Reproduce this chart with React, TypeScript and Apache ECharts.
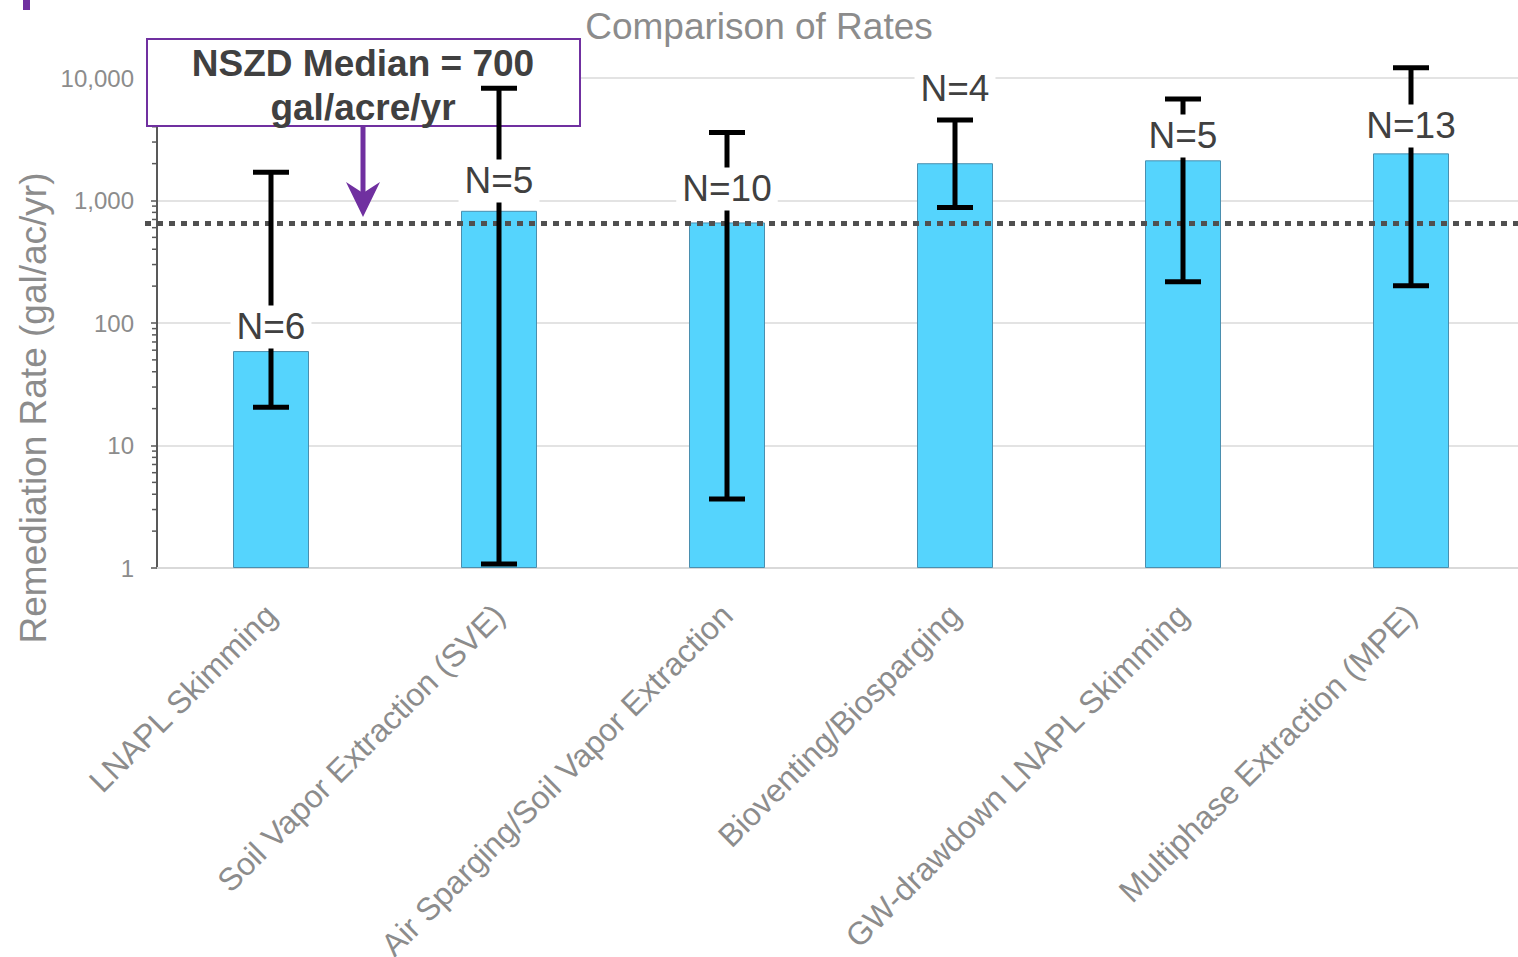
import React, { useEffect, useRef } from "react";
import * as echarts from "echarts";

const categories = [
  "LNAPL Skimming",
  "Soil Vapor Extraction (SVE)",
  "Air Sparging/Soil Vapor Extraction",
  "Bioventing/Biosparging",
  "GW-drawdown LNAPL Skimming",
  "Multiphase Extraction (MPE)",
];
const medianRates = [59, 824, 662, 2015, 2128, 2425];
const rangeLow = [20.5, 1.08, 3.66, 877, 217, 201];
const rangeHigh = [1702, 8240, 3583, 4545, 6749, 12130];
const sampleCounts = [6, 5, 10, 4, 5, 13];
const countLabelAt = [92.8, 1443, 1242, 8286, 3362, 4058];
const nszdMedianLine = 650;
const minorTickValues = [
  2, 3, 4, 5, 6, 7, 8, 9,
  20, 30, 40, 50, 60, 70, 80, 90,
  200, 300, 400, 500, 600, 700, 800, 900,
  2000, 3000, 4000, 5000, 6000, 7000, 8000, 9000,
];
const titleText = "Comparison of Rates";
const yAxisTitle = "Remediation Rate (gal/ac/yr)";
const annotationText = "NSZD Median = 700\ngal/acre/yr";

const FONT = "'Liberation Sans', Arial, sans-serif";
const PURPLE = "#7030A0";
const GRAY = "#8c8c8c";

export default function App() {
  const ref = useRef<HTMLDivElement>(null);
  useEffect(() => {
    if (!ref.current) return;
    const chart = echarts.init(ref.current, undefined, { renderer: "svg" });
    const option: any = {
      animation: false,
      textStyle: { fontFamily: FONT },
      title: {
        text: titleText,
        left: "center",
        top: 3,
        textStyle: { fontSize: 37, fontWeight: "normal", color: GRAY, fontFamily: FONT },
      },
      grid: {
        left: 157,
        right: -7,
        top: 78,
        bottom: 389,
        containLabel: false,
        outerBoundsMode: "none",
      },
      xAxis: {
        type: "category",
        data: categories,
        axisLine: { show: true, lineStyle: { color: "#d9d9d9", width: 2 } },
        axisTick: { show: false },
        axisLabel: {
          interval: 0,
          rotate: 45,
          fontSize: 32,
          color: GRAY,
          margin: 42,
          fontFamily: FONT,
        },
      },
      yAxis: {
        type: "log",
        logBase: 10,
        min: 1,
        max: 10000,
        axisLine: { show: true, lineStyle: { color: "#595959", width: 2 } },
        axisTick: { show: true, inside: false, length: 6, lineStyle: { color: "#595959", width: 1.5 } },
        splitLine: { show: true, lineStyle: { color: "#e3e3e3", width: 2 } },
        axisLabel: {
          fontSize: 24,
          color: GRAY,
          margin: 23,
          fontFamily: FONT,
          formatter: (v: number) => Math.round(v).toLocaleString("en-US"),
        },
      },
      series: [
        {
          type: "bar",
          data: medianRates,
          barWidth: 76,
          z: 2,
          itemStyle: { color: "#55D4FD", borderColor: "#4A8FAF", borderWidth: 1 },
        },
        {
          type: "custom",
          z: 1,
          silent: true,
          data: minorTickValues.map((v) => [0, v]),
          renderItem: (params: any, api: any) => {
            const y = api.coord([0, api.value(1)])[1];
            const x = params.coordSys.x;
            return {
              type: "line",
              shape: { x1: x - 5, y1: y, x2: x, y2: y },
              style: { stroke: "#595959", lineWidth: 1.5 },
            };
          },
        },
        {
          type: "custom",
          z: 4,
          silent: true,
          data: categories.map((_, i) => [i, rangeLow[i], rangeHigh[i]]),
          renderItem: (params: any, api: any) => {
            const i = api.value(0);
            const lo = api.coord([i, api.value(1)]);
            const hi = api.coord([i, api.value(2)]);
            const half = 18;
            const st = { stroke: "#000", lineWidth: 5 };
            return {
              type: "group",
              children: [
                { type: "line", shape: { x1: lo[0], y1: hi[1], x2: lo[0], y2: lo[1] }, style: st },
                { type: "line", shape: { x1: hi[0] - half, y1: hi[1], x2: hi[0] + half, y2: hi[1] }, style: st },
                { type: "line", shape: { x1: lo[0] - half, y1: lo[1], x2: lo[0] + half, y2: lo[1] }, style: st },
              ],
            };
          },
        },
        {
          type: "custom",
          z: 5,
          silent: true,
          data: categories.map((_, i) => [i, countLabelAt[i], sampleCounts[i]]),
          renderItem: (params: any, api: any) => {
            const i = api.value(0);
            const p = api.coord([i, api.value(1)]);
            return {
              type: "text",
              x: p[0],
              y: p[1],
              style: {
                text: "N=" + api.value(2),
                fill: "#404040",
                fontSize: 37,
                fontFamily: FONT,
                align: "center",
                verticalAlign: "middle",
                backgroundColor: "#ffffff",
                padding: [3, 6],
              },
            };
          },
        },
      ],
    };
    chart.setOption(option);

    const yLine = chart.convertToPixel({ yAxisIndex: 0 }, nszdMedianLine) as number;
    chart.setOption({
      graphic: [
        {
          type: "rect",
          z: 1,
          shape: { x: 147, y: 39, width: 433, height: 87 },
          style: { fill: "#ffffff", stroke: PURPLE, lineWidth: 2 },
        },
        {
          type: "text",
          z: 1,
          x: 363,
          y: 85,
          style: {
            text: annotationText,
            fill: "#404040",
            font: `bold 37px ${FONT}`,
            align: "center",
            verticalAlign: "middle",
            lineHeight: 44,
          },
        },
        {
          type: "line",
          z: 3,
          shape: { x1: 363, y1: 126, x2: 363, y2: 195 },
          style: { stroke: PURPLE, lineWidth: 5 },
        },
        {
          type: "polygon",
          z: 3,
          shape: { points: [[363, 217], [346, 182], [363, 193], [380, 182]] },
          style: { fill: PURPLE },
        },
        {
          type: "line",
          z: 3,
          shape: { x1: 145, y1: yLine, x2: 1518, y2: yLine },
          style: { stroke: "#505050", lineWidth: 5, lineDash: [6, 6] },
        },
        {
          type: "rect",
          z: 3,
          shape: { x: 23, y: 0, width: 7, height: 10 },
          style: { fill: PURPLE },
        },
        {
          type: "text",
          z: 3,
          x: 33,
          y: 408,
          rotation: Math.PI / 2,
          style: {
            text: yAxisTitle,
            fill: GRAY,
            font: `37px ${FONT}`,
            align: "center",
            verticalAlign: "middle",
          },
        },
      ],
    });
    return () => chart.dispose();
  }, []);
  return (
    <div
      ref={ref}
      style={{ position: "fixed", left: 0, top: 0, width: 1518, height: 957, background: "#fff" }}
    />
  );
}
